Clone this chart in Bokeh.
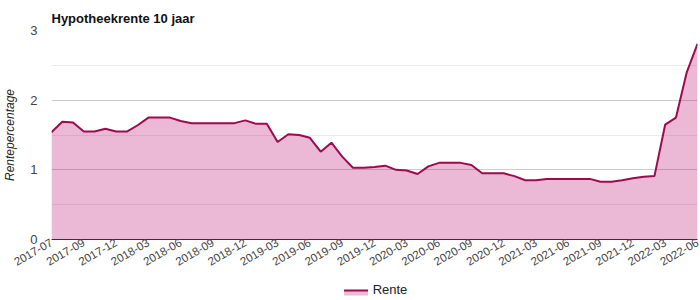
import math
from bokeh.plotting import figure
from bokeh.layouts import column
from bokeh.core.properties import value
from bokeh.models import ColumnDataSource, Range1d, FixedTicker
from bokeh.embed import file_html
from bokeh.resources import INLINE

# ---- data ----
values = [1.54, 1.69, 1.68, 1.55, 1.55, 1.59, 1.55, 1.55, 1.64, 1.75,
          1.75, 1.75, 1.70, 1.67, 1.67, 1.67, 1.67, 1.67, 1.71, 1.66,
          1.66, 1.40, 1.51, 1.50, 1.46, 1.26, 1.39, 1.19, 1.03, 1.03,
          1.04, 1.06, 1.00, 0.99, 0.94, 1.05, 1.10, 1.10, 1.10, 1.07,
          0.95, 0.95, 0.95, 0.91, 0.85, 0.85, 0.87, 0.87, 0.87, 0.87,
          0.87, 0.83, 0.83, 0.85, 0.88, 0.90, 0.91, 1.65, 1.75, 2.40,
          2.81]
tick_labels = ["2017-07", "2017-09", "2017-12", "2018-03", "2018-06", "2018-09",
               "2018-12", "2019-03", "2019-06", "2019-09", "2019-12", "2020-03",
               "2020-06", "2020-09", "2020-12", "2021-03", "2021-06", "2021-09",
               "2021-12", "2022-03", "2022-06"]
series_name = "Rente"
title_text = "Hypotheekrente 10 jaar"
y_label = "Rentepercentage"

idx = list(range(len(values)))
src = ColumnDataSource(dict(x=idx, y=values, y0=[0] * len(values)))

FONT = "Liberation Sans"
LINE = "#9c0b4e"
FILL = "#b8006c"
FILL_ALPHA = 0.28

p = figure(width=700, height=280, output_backend="svg", toolbar_location=None,
           x_range=Range1d(0, len(values) - 1), y_range=Range1d(0, 3),
           min_border_left=50, min_border_right=3, min_border_top=30,
           min_border_bottom=41)
p.outline_line_color = None

p.title.text = title_text
p.title.text_font = FONT
p.title.text_font_size = "13px"
p.title.text_font_style = "bold"
p.title.text_color = "#111111"
p.title.align = "left"

p.varea(x="x", y1="y0", y2="y", source=src, fill_color=FILL, fill_alpha=FILL_ALPHA)
p.line(x="x", y="y", source=src, line_color=LINE, line_width=2)

tick_pos = list(range(0, len(values), 3))
p.xaxis.ticker = FixedTicker(ticks=tick_pos)
p.xaxis.major_label_overrides = {t: lab for t, lab in zip(tick_pos, tick_labels)}
p.xaxis.major_label_orientation = math.pi / 6
p.xaxis.major_label_text_font = FONT
p.xaxis.major_label_text_font_size = "11.5px"
p.xaxis.major_label_text_color = "#444444"
p.xaxis.major_tick_line_color = None
p.xaxis.minor_tick_line_color = None
p.xaxis.major_tick_out = 0
p.xaxis.axis_line_color = "#333333"
p.xaxis.major_label_standoff = 2

p.yaxis.ticker = FixedTicker(ticks=[0, 1, 2, 3], minor_ticks=[0.5, 1.5, 2.5])
p.yaxis.axis_line_color = None
p.yaxis.major_tick_line_color = None
p.yaxis.minor_tick_line_color = None
p.yaxis.major_label_text_font = FONT
p.yaxis.major_label_text_font_size = "13px"
p.yaxis.major_label_text_color = "#444444"
p.yaxis.major_label_standoff = 8
p.yaxis.axis_label = y_label
p.yaxis.axis_label_text_font = FONT
p.yaxis.axis_label_text_font_size = "12px"
p.yaxis.axis_label_text_font_style = "italic"
p.yaxis.axis_label_text_color = "#222222"
p.yaxis.axis_label_standoff = 10

p.xgrid.grid_line_color = None
p.ygrid.grid_line_color = "#cccccc"
p.ygrid.minor_grid_line_color = "#ebebeb"

# legend strip below the chart (pixel-like coordinates of the strip)
lg = figure(width=700, height=20, output_backend="svg", toolbar_location=None,
            x_range=Range1d(0, 700), y_range=Range1d(0, 20), min_border=0)
lg.axis.visible = False
lg.grid.grid_line_color = None
lg.outline_line_color = None
lg.quad(left=[317], right=[343], bottom=[5], top=[10],
        fill_color=FILL, fill_alpha=FILL_ALPHA, line_color=None)
lg.segment(x0=[317], y0=[10], x1=[343], y1=[10], line_color=LINE, line_width=2)
lg.text(x=[348], y=[11], text=[series_name], text_font=value(FONT),
        text_font_size="13px", text_color="#222222",
        text_baseline="middle", text_align="left")

layout = column(p, lg, spacing=0)
open("out.html", "w").write(file_html(layout, INLINE))
